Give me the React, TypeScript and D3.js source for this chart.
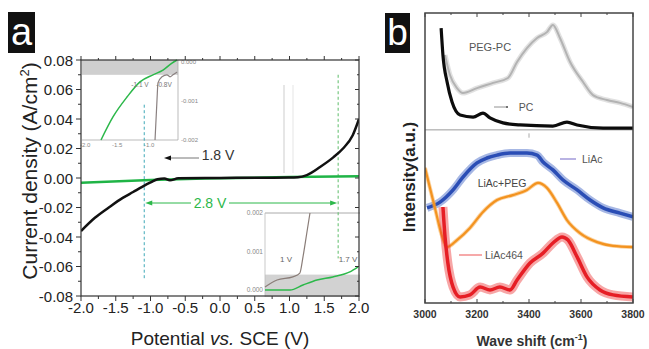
import React from 'react';
import * as d3 from 'd3';

const FONT = "'Liberation Sans', Arial, Helvetica, sans-serif";

// ---------- Panel a : data ----------
const aXTicks = [-2.0, -1.5, -1.0, -0.5, 0.0, 0.5, 1.0, 1.5, 2.0];
const aYTicks = [0.08, 0.06, 0.04, 0.02, 0.0, -0.02, -0.04, -0.06, -0.08];
const aXMinor = [-2, -1.75, -1.5, -1.25, -1, -0.75, -0.5, -0.25, 0, 0.25, 0.5, 0.75, 1, 1.25, 1.5, 1.75, 2];
const aYMinor = [-0.08, -0.07, -0.06, -0.05, -0.04, -0.03, -0.02, -0.01, 0, 0.01, 0.02, 0.03, 0.04, 0.05, 0.06, 0.07, 0.08];

const blackV = [-2.0, -1.8, -1.6, -1.4, -1.25, -1.12, -1.0, -0.9, -0.8, -0.72, -0.6, 0.0, 0.5, 1.0, 1.12, 1.25, 1.44, 1.63, 1.77, 1.91, 2.0];
const blackJ = [-0.036, -0.027, -0.020, -0.0135, -0.0095, -0.006, -0.003, -0.0008, -0.0003, -0.0016, -0.0002, 0.0, 0.0002, 0.0003, 0.0005, 0.002, 0.0075, 0.014, 0.020, 0.029, 0.040];

const greenV = [-2.0, -1.0, 0.0, 1.0, 2.0];
const greenJ = [-0.0032, -0.0013, -0.0002, 0.0006, 0.0012];

// inset 1 (top-left)
const in1XTicks = [-2.0, -1.5, -1.0];
const in1YTicks = [0.0, -0.001, -0.002];
const in1GreenV = [-1.753, -1.566, -1.347, -1.144, -0.941, -0.784, -0.644, -0.566];
const in1GreenJ = [-0.002, -0.00141, -0.0009, -0.00051, -0.00033, -0.00021, -0.00003, 0.00005];
const in1GrayV = [-0.909, -0.878, -0.863, -0.8, -0.722, -0.675, -0.628, -0.566];
const in1GrayJ = [-0.002, -0.00097, -0.00054, -0.00038, -0.00033, -0.00038, -0.00033, -0.00026];

// inset 2 (bottom-right)
const in2YTicks = [0.002, 0.001, 0.0];
const in2GrayV = [0.5, 0.69, 0.94, 1.05, 1.1, 1.16, 1.21];
const in2GrayJ = [0.00008, 0.00026, 0.00034, 0.00044, 0.00086, 0.00148, 0.002];
const in2GreenV = [0.5, 0.895, 1.1, 1.32, 1.57, 1.84, 1.97];
const in2GreenJ = [0.0, 0.0, 0.00013, 0.00026, 0.00034, 0.00047, 0.0006];

// ---------- Panel b : data ----------
const bXTicks = [3000, 3200, 3400, 3600, 3800];
const bXMinor = [3000, 3100, 3200, 3300, 3400, 3500, 3600, 3700, 3800];

const pcW = [3062, 3069, 3085, 3104, 3135, 3185, 3223, 3250, 3300, 3365, 3492, 3546, 3585, 3685, 3800];
const pcI = [94.8, 85.5, 76.2, 69.3, 64.8, 64.1, 65.5, 63.8, 62.1, 61.4, 61.0, 62.4, 61.4, 60.3, 60.3];

const pegpcW = [3077, 3096, 3123, 3146, 3200, 3262, 3319, 3354, 3392, 3431, 3469, 3492, 3519, 3558, 3608, 3646, 3700, 3750, 3800];
const pegpcI = [85.5, 78.6, 74.1, 72.4, 74.1, 75.9, 77.6, 83.1, 87.9, 91.4, 93.4, 95.9, 91.4, 83.1, 76.2, 71.7, 70.0, 69.0, 67.6];

const liacW = [3008, 3058, 3108, 3146, 3200, 3238, 3277, 3327, 3392, 3431, 3454, 3492, 3531, 3585, 3635, 3685, 3750, 3800];
const liacI = [32.8, 34.8, 39.0, 43.4, 48.3, 50.0, 51.0, 51.7, 51.7, 51.0, 48.6, 45.9, 42.4, 39.0, 35.5, 32.8, 31.0, 29.7];

const liacPegW = [3000, 3019, 3042, 3062, 3085, 3123, 3173, 3223, 3277, 3338, 3392, 3435, 3469, 3508, 3546, 3596, 3662, 3723, 3800];
const liacPegI = [46.6, 39.7, 31.4, 24.1, 19.3, 21.7, 25.9, 31.4, 35.5, 37.2, 39.0, 41.4, 39.7, 34.5, 28.6, 24.1, 21.0, 19.7, 19.3];

const liac464W = [3069, 3077, 3088, 3108, 3135, 3173, 3212, 3250, 3288, 3327, 3354, 3404, 3454, 3492, 3527, 3550, 3585, 3623, 3673, 3723, 3800];
const liac464I = [33.1, 22.8, 13.8, 5.5, 2.1, 2.8, 5.5, 4.5, 5.5, 4.5, 7.9, 13.8, 17.2, 20.7, 22.8, 21.7, 15.9, 9.0, 4.5, 2.8, 2.1];

const zip = (a: number[], b: number[]) => a.map((v, i) => [v, b[i]] as [number, number]);

export default function App() {
  // panel a scales
  const xa = d3.scaleLinear().domain([-2, 2]).range([81, 359]);
  const ya = d3.scaleLinear().domain([-0.08, 0.08]).range([296, 60]);
  const la = d3.line<[number, number]>().x(d => xa(d[0])).y(d => ya(d[1])).curve(d3.curveMonotoneX);

  const x1 = d3.scaleLinear().domain([-2.05, -0.55]).range([82, 178]);
  const y1 = d3.scaleLinear().domain([-0.002, 0.00005]).range([140, 60]);
  const l1 = d3.line<[number, number]>().x(d => x1(d[0])).y(d => y1(d[1])).curve(d3.curveMonotoneX);

  const x2 = d3.scaleLinear().domain([0.5, 2.0]).range([265, 360]);
  const y2 = d3.scaleLinear().domain([0, 0.002]).range([290, 213]);
  const l2 = d3.line<[number, number]>().x(d => x2(d[0])).y(d => y2(d[1])).curve(d3.curveMonotoneX);

  // panel b scales
  const xb = d3.scaleLinear().domain([3000, 3800]).range([425, 633]);
  const yb = d3.scaleLinear().domain([0, 100]).range([303, 13]);
  const lb = d3.line<[number, number]>().x(d => xb(d[0])).y(d => yb(d[1])).curve(d3.curveMonotoneX);

  const dashL = xa(-1.09);
  const dashR = xa(1.7);
  const arrowY = 203;

  return (
    <svg width={649} height={349} style={{ position: 'absolute', left: 0, top: 0, background: '#fff' }} fontFamily={FONT}>
      <defs>
        <clipPath id="clipA"><rect x={81} y={60} width={278} height={236} /></clipPath>
        <clipPath id="clipB"><rect x={425} y={13} width={208} height={290} /></clipPath>
      </defs>

      {/* ===== Panel a ===== */}
      <rect x={8} y={12} width={27} height={41} fill="#111" />
      <text x={21.5} y={45} fill="#fff" fontSize={38} textAnchor="middle">a</text>

      {/* faint vertical guides */}
      <line x1={284} x2={284} y1={85} y2={173} stroke="#e6e6e6" strokeWidth={2} />
      <line x1={293} x2={293} y1={85} y2={173} stroke="#eeeeee" strokeWidth={1.5} />

      {/* inset 1 */}
      <rect x={x1(-2.05)} y={y1(0.00005)} width={x1(-0.55) - x1(-2.05)} height={y1(-0.00033) - y1(0.00005)} fill="#cfcfcf" />
      <line x1={x1(-2.05)} x2={x1(-0.55)} y1={y1(-0.002)} y2={y1(-0.002)} stroke="#aaa" strokeWidth={0.8} />
      <line x1={x1(-0.55)} x2={x1(-0.55)} y1={y1(0.00005)} y2={y1(-0.002)} stroke="#aaa" strokeWidth={0.8} />
      {in1XTicks.map(t => (
        <text key={'i1x' + t} x={x1(t)} y={y1(-0.002) + 7} fontSize={6} fill="#888" textAnchor="middle">{t.toFixed(1)}</text>
      ))}
      {in1YTicks.map(t => (
        <text key={'i1y' + t} x={x1(-0.55) + 3} y={y1(t) + 2} fontSize={6} fill="#888">{t.toFixed(3)}</text>
      ))}
      <path d={l1(zip(in1GrayV, in1GrayJ)) || ''} fill="none" stroke="#8a8080" strokeWidth={1.2} />
      <path d={l1(zip(in1GreenV, in1GreenJ)) || ''} fill="none" stroke="#2cb84a" strokeWidth={1.5} />
      <text x={140} y={87} fontSize={6.5} fill="#777" textAnchor="middle">-1.1 V</text>
      <text x={164} y={87} fontSize={6.5} fill="#777" textAnchor="middle">-0.8V</text>

      {/* inset 2 */}
      <rect x={x2(0.5)} y={y2(0.0004)} width={x2(2.0) - x2(0.5)} height={y2(-0.00018) - y2(0.0004)} fill="#d2d2d2" />
      <line x1={x2(0.5)} x2={x2(2.0)} y1={y2(0.002)} y2={y2(0.002)} stroke="#aaa" strokeWidth={1} />
      <line x1={x2(0.5)} x2={x2(0.5)} y1={y2(0.002)} y2={y2(-0.00018)} stroke="#bbb" strokeWidth={0.8} />
      {in2YTicks.map(t => (
        <text key={'i2y' + t} x={x2(0.5) - 2} y={y2(t) + 2} fontSize={6.5} fill="#888" textAnchor="end">{t.toFixed(3)}</text>
      ))}
      <path d={l2(zip(in2GrayV, in2GrayJ)) || ''} fill="none" stroke="#8a7d78" strokeWidth={1.2} />
      <path d={l2(zip(in2GreenV, in2GreenJ)) || ''} fill="none" stroke="#2cb84a" strokeWidth={1.5} />
      <text x={286} y={262} fontSize={8} fill="#666" textAnchor="middle">1 V</text>
      <text x={348} y={262} fontSize={8} fill="#666" textAnchor="middle">1.7 V</text>

      {/* dashed lines */}
      <line x1={dashL} x2={dashL} y1={ya(0.0497)} y2={ya(-0.068)} stroke="#3fa9b8" strokeWidth={1} strokeDasharray="3,2.5" />
      <line x1={dashR} x2={dashR} y1={ya(0.07)} y2={ya(-0.0545)} stroke="#5cbc68" strokeWidth={1} strokeDasharray="3,2.5" />

      {/* curves */}
      <g clipPath="url(#clipA)">
        <path d={la(zip(greenV, greenJ)) || ''} fill="none" stroke="#1fb446" strokeWidth={2.5} />
        <path d={la(zip(blackV, blackJ)) || ''} fill="none" stroke="#111" strokeWidth={2.5} />
      </g>

      {/* 1.8 V arrow */}
      <line x1={170} x2={199} y1={158} y2={158} stroke="#777" strokeWidth={1} />
      <path d="M164,158 L171,155.5 L171,160.5 Z" fill="#111" />
      <text x={218} y={160} fontSize={14} fill="#333" textAnchor="middle">1.8 V</text>

      {/* 2.8 V arrow */}
      <line x1={dashL + 6} x2={191} y1={arrowY} y2={arrowY} stroke="#2cb84a" strokeWidth={1} />
      <line x1={229} x2={dashR - 6} y1={arrowY} y2={arrowY} stroke="#2cb84a" strokeWidth={1} />
      <path d={`M${dashL + 1},${arrowY} L${dashL + 8},${arrowY - 2.5} L${dashL + 8},${arrowY + 2.5} Z`} fill="#2cb84a" />
      <path d={`M${dashR - 1},${arrowY} L${dashR - 8},${arrowY - 2.5} L${dashR - 8},${arrowY + 2.5} Z`} fill="#2cb84a" />
      <text x={210} y={208} fontSize={14} fill="#2cb84a" textAnchor="middle">2.8 V</text>

      {/* frame a */}
      <rect x={81} y={60} width={278} height={236} fill="none" stroke="#333" strokeWidth={1.2} />
      {aXMinor.map((t, i) => (
        <g key={'axm' + i}>
          <line x1={xa(t)} x2={xa(t)} y1={296} y2={i % 2 === 0 ? 301 : 299} stroke="#333" strokeWidth={1} />
          <line x1={xa(t)} x2={xa(t)} y1={60} y2={i % 2 === 0 ? 56 : 58} stroke="#333" strokeWidth={1} />
        </g>
      ))}
      {aYMinor.map((t, i) => (
        <g key={'aym' + i}>
          <line x1={81} x2={i % 2 === 0 ? 76 : 78} y1={ya(t)} y2={ya(t)} stroke="#333" strokeWidth={1} />
          <line x1={359} x2={i % 2 === 0 ? 355 : 357} y1={ya(t)} y2={ya(t)} stroke="#333" strokeWidth={1} />
        </g>
      ))}
      {aXTicks.map(t => (
        <text key={'axt' + t} x={xa(t)} y={313} fontSize={15} fill="#222" textAnchor="middle">{t.toFixed(1)}</text>
      ))}
      {aYTicks.map(t => (
        <text key={'ayt' + t} x={73} y={ya(t) + 5.5} fontSize={15} fill="#222" textAnchor="end">{t.toFixed(2)}</text>
      ))}
      <text x={220} y={345} fontSize={19} fill="#222" textAnchor="middle">
        Potential <tspan fontStyle="italic">vs.</tspan> SCE (V)
      </text>
      <text transform="translate(37,171) rotate(-90)" fontSize={21} fill="#222" textAnchor="middle">
        Current density (A/cm<tspan dy={-8} fontSize={13}>2</tspan><tspan dy={8}>)</tspan>
      </text>

      {/* ===== Panel b ===== */}
      <rect x={385} y={13} width={25} height={40} fill="#111" />
      <text x={397.5} y={45} fill="#fff" fontSize={37} textAnchor="middle">b</text>

      <line x1={425} x2={633} y1={yb(59.7)} y2={yb(59.7)} stroke="#999" strokeWidth={1} />
      <line x1={xb(3400)} x2={xb(3400)} y1={yb(58.5)} y2={yb(57)} stroke="#aaa" strokeWidth={1} />

      <g clipPath="url(#clipB)">
        {/* PEG-PC */}
        <path d={lb(zip(pegpcW, pegpcI)) || ''} fill="none" stroke="#c4c4c4" strokeWidth={5} strokeOpacity={0.5} />
        <path d={lb(zip(pegpcW, pegpcI)) || ''} fill="none" stroke="#b3b3b3" strokeWidth={2} />
        {/* PC */}
        <path d={lb(zip(pcW, pcI)) || ''} fill="none" stroke="#0c0c0c" strokeWidth={3.2} />
        {/* LiAc */}
        <path d={lb(zip(liacW, liacI)) || ''} fill="none" stroke="#3a5fc4" strokeWidth={8} strokeOpacity={0.45} />
        <path d={lb(zip(liacW, liacI)) || ''} fill="none" stroke="#2a4db5" strokeWidth={3.5} />
        {/* LiAc+PEG */}
        <path d={lb(zip(liacPegW, liacPegI)) || ''} fill="none" stroke="#f7a640" strokeWidth={4} strokeOpacity={0.5} />
        <path d={lb(zip(liacPegW, liacPegI)) || ''} fill="none" stroke="#f39320" strokeWidth={2.2} />
        {/* LiAc464 */}
        <path d={lb(zip(liac464W, liac464I)) || ''} fill="none" stroke="#ee3a3a" strokeWidth={9} strokeOpacity={0.45} />
        <path d={lb(zip(liac464W, liac464I)) || ''} fill="none" stroke="#e61e25" strokeWidth={3.5} />
      </g>

      {/* labels b */}
      <text x={490} y={51} fontSize={11} fill="#555" textAnchor="middle">PEG-PC</text>
      <line x1={494} x2={506} y1={107} y2={107} stroke="#777" strokeWidth={0.8} />
      <circle cx={507} cy={107} r={1} fill="#444" />
      <text x={526} y={111} fontSize={10.5} fill="#555" textAnchor="middle">PC</text>
      <line x1={560} x2={576} y1={159} y2={159} stroke="#8a80d0" strokeWidth={1.2} />
      <text x={582} y={163} fontSize={10.5} fill="#555">LiAc</text>
      <text x={502} y={187} fontSize={10.5} fill="#444" textAnchor="middle">LiAc+PEG</text>
      <line x1={459} x2={482} y1={255} y2={255} stroke="#f07070" strokeWidth={1.2} />
      <text x={485} y={259} fontSize={10.5} fill="#555">LiAc464</text>

      {/* frame b */}
      <rect x={425} y={13} width={208} height={290} fill="none" stroke="#444" strokeWidth={1.5} />
      {bXMinor.map((t, i) => (
        <g key={'bxm' + i}>
          <line x1={xb(t)} x2={xb(t)} y1={303} y2={i % 2 === 0 ? 299 : 301} stroke="#444" strokeWidth={1} />
          <line x1={xb(t)} x2={xb(t)} y1={13} y2={i % 2 === 0 ? 17 : 15} stroke="#444" strokeWidth={1} />
        </g>
      ))}
      {bXTicks.map(t => (
        <text key={'bxt' + t} x={xb(t)} y={318} fontSize={10.5} fontWeight="bold" fill="#333" textAnchor="middle">{t}</text>
      ))}
      <text x={532} y={346} fontSize={14} fontWeight="bold" fill="#333" textAnchor="middle">
        Wave shift (cm<tspan dy={-6} fontSize={9}>-1</tspan><tspan dy={6}>)</tspan>
      </text>
      <text transform="translate(415,177) rotate(-90)" fontSize={17} fontWeight="bold" fill="#222" textAnchor="middle">
        Intensity(a.u.)
      </text>
    </svg>
  );
}
